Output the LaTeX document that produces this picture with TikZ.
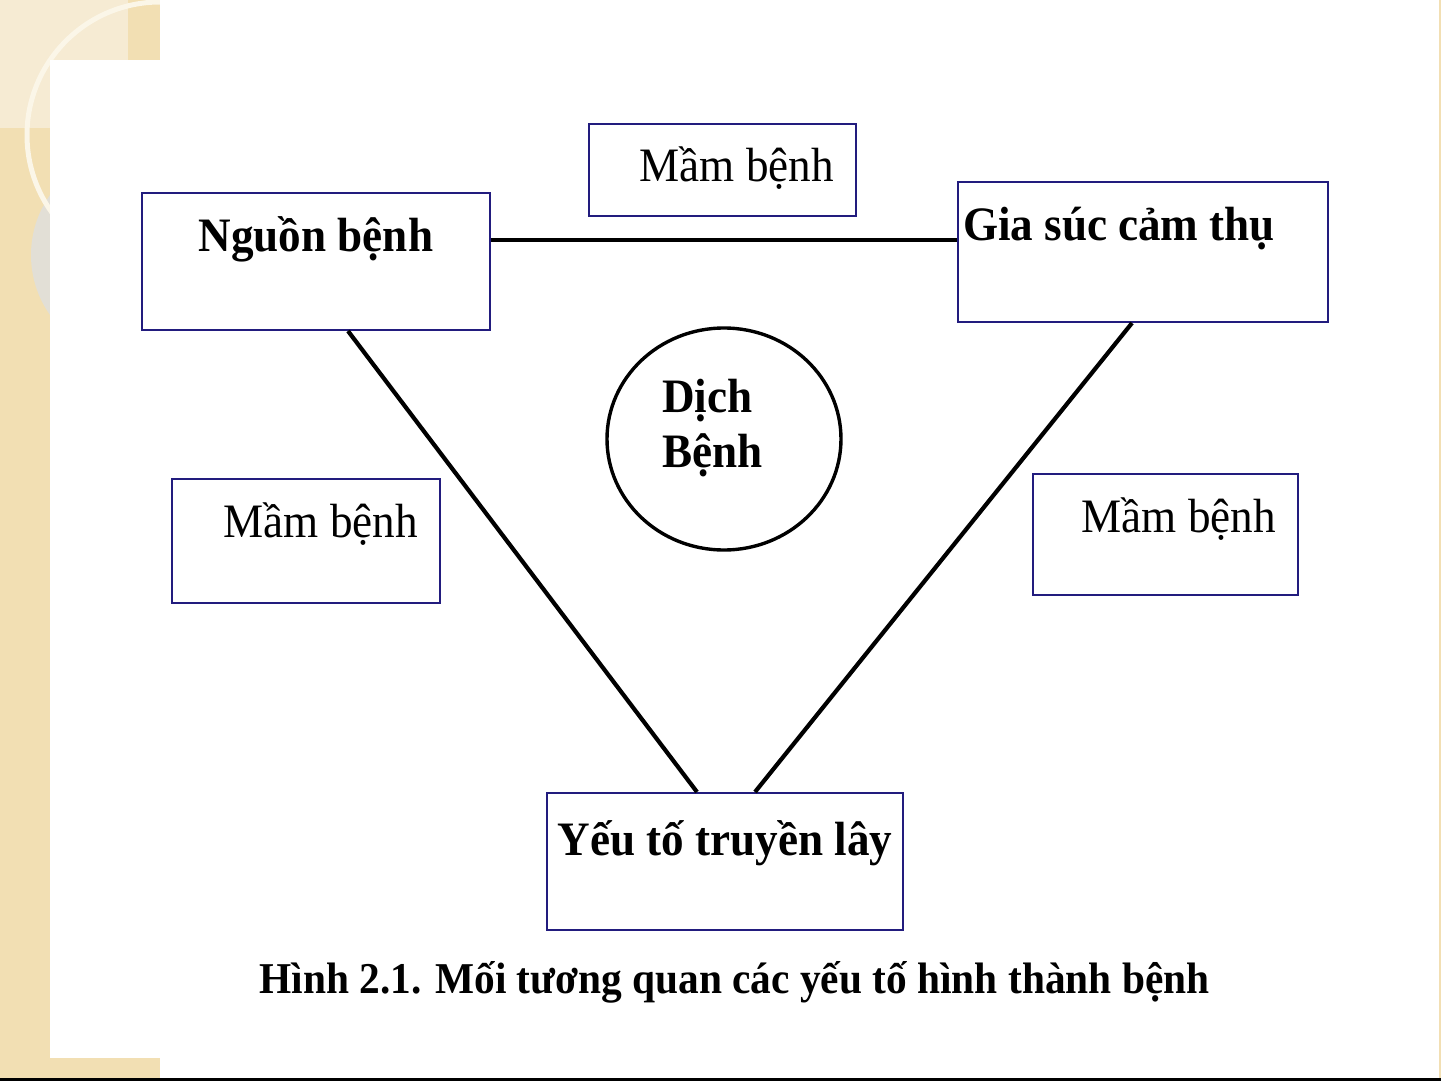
\documentclass[tikz,border=0pt]{standalone}
\usepackage{fontspec}
\setmainfont{Liberation Serif}[FakeStretch=0.94]
\usepackage{tikz}
\usetikzlibrary{shapes.geometric,calc}
\usepackage{xcolor}

\definecolor{beige}{HTML}{F2DFB3}
\definecolor{paleBeige}{HTML}{F6EBD3}
\definecolor{ringCream}{HTML}{FBF6E8}
\definecolor{discGrey}{HTML}{E2DFD6}
\definecolor{boxBlue}{HTML}{221C7E}

\tikzset{
  cell/.style={draw=boxBlue, line width=1pt, inner ysep=0pt, inner xsep=0pt,
    text height=29pt, align=flush center, font=\fontsize{24}{28}\selectfont\bfseries},
  germ/.style={cell, align=flush right, inner xsep=11pt, font=\fontsize{24}{28}\selectfont},
  link/.style={line width=2.1pt, black},
}

\begin{document}
\begin{tikzpicture}[x=0.5pt, y=-0.5pt]
    \useasboundingbox (0,0) rectangle (1441,1081);

    % Slide background
    \fill[white] (0,0) rectangle (1441,1081);
    \fill[beige] (0,0) rectangle (160,1078);
    \fill[beige] (1439,0) rectangle (1441,1078);
    \fill[paleBeige] (0,0) rectangle (128,128);
    \fill[discGrey] (135,255) circle[radius=52pt];
    \draw[ringCream, line width=2.5pt] (160,135) circle[radius=66.5pt];
    \fill[white] (50,60) rectangle (1439,1058);
    \fill[white] (160,0) rectangle (1439,60);
    \fill[black] (0,1078) rectangle (1441,1081);

    % Nguon benh
    \node[cell, text width=174pt, text depth=39.5pt] (src) at (316,261.5) {Nguồn bệnh};

    % Gia suc cam thu
    \node[cell, align=flush left, inner xsep=2.5pt, text width=180pt, text depth=41pt] (host) at (1143,252) {Gia súc cảm thụ};

    % Yeu to truyen lay
    \node[cell, text width=178pt, text height=31pt, text depth=37.5pt] (route) at (725,861.5) {Yếu tố truyền lây};

    % Mam benh
    \node[germ, text width=111.5pt, text depth=17pt] (germtop) at (722.5,170) {Mầm bệnh};
    \node[germ, text width=112pt, text depth=33pt] (germleft) at (306,541) {Mầm bệnh};
    \node[germ, text width=110.5pt, text depth=31.5pt] (germright) at (1165.5,534.5) {Mầm bệnh};

    % Dich benh
    \node[draw, ellipse, line width=1.7pt, minimum width=117pt, minimum height=111pt,
      text width=62pt, text depth=43pt, align=flush left,
      font=\fontsize{24}{27.5}\selectfont\bfseries] (epi) at (724,439) {Dịch\\Bệnh};

    % Triangle
    \draw[link] (src.east |- 0,240) -- (host.west |- 0,240);
    \draw[link] (src.south -| 348,0) -- (route.north -| 697,0);
    \draw[link] (host.south -| 1132,0) -- (route.north -| 755,0);

    % Caption
    \node[anchor=base, font=\fontsize{22}{26}\selectfont\bfseries] (caption) at (734.5,993)
      {Hình 2.1. Mối tương quan các yếu tố hình thành bệnh};
\end{tikzpicture}
\end{document}
